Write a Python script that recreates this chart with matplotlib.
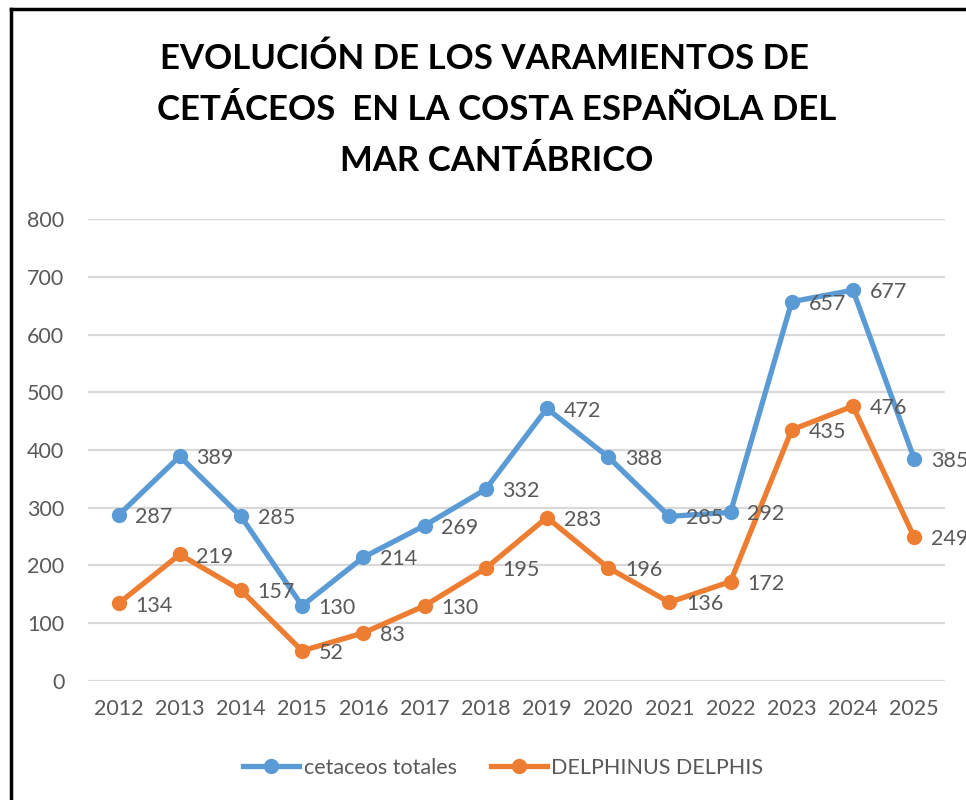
import matplotlib
matplotlib.use("Agg")
import matplotlib.pyplot as plt
from matplotlib.lines import Line2D

# datos del gráfico
years = ['2012', '2013', '2014', '2015', '2016', '2017', '2018',
         '2019', '2020', '2021', '2022', '2023', '2024', '2025']
cetaceos = [287, 389, 285, 130, 214, 269, 332, 472, 388, 285, 292, 657, 677, 385]
delphinus = [134, 219, 157, 52, 83, 130, 195, 283, 196, 136, 172, 435, 476, 249]
series_names = ['cetaceos totales', 'DELPHINUS DELPHIS']
yticks = [0, 100, 200, 300, 400, 500, 600, 700, 800]

azul = '#5B9BD5'
naranja = '#ED7D31'
gris = '#595959'
fuente = ['Lato', 'DejaVu Sans']

plt.rcParams['font.family'] = fuente

fig = plt.figure(figsize=(9.66, 8), dpi=100)
ax = fig.add_axes([0.091, 0.149, 0.887, 0.577])

x = list(range(len(years)))
for vals, col, name in [(cetaceos, azul, series_names[0]), (delphinus, naranja, series_names[1])]:
    ax.plot(x, vals, color=col, lw=3.8, marker='o', ms=10, label=name,
            solid_joinstyle='round', zorder=3)
    for xi, v in zip(x, vals):
        ax.annotate(str(v), (xi, v), xytext=(12, -1.5), textcoords='offset points',
                    va='center', ha='left', fontsize=15.5, color=gris, zorder=4)

ax.set_xlim(-0.5, 13.5)
ax.set_ylim(0, 800)
ax.set_yticks(yticks)
ax.set_xticks(x)
ax.set_xticklabels(years)
ax.tick_params(length=0, labelsize=15.5, colors=gris, pad=13)
ax.tick_params(axis='y', pad=17)
ax.grid(axis='y', color='#D9D9D9', lw=1.6)
ax.set_axisbelow(True)
for s in ax.spines.values():
    s.set_visible(False)

# título
titulo = ['EVOLUCIÓN DE LOS VARAMIENTOS DE',
          'CETÁCEOS  EN LA COSTA ESPAÑOLA DEL',
          'MAR CANTÁBRICO']
for i, (t, cx) in enumerate(zip(titulo, [484, 497, 497])):
    fig.text(cx / 966, 1 - (59 + 51 * i) / 800, t, ha='center', va='center',
             fontsize=25, fontweight='bold', color='black')

# leyenda
ax.legend(loc='upper center', bbox_to_anchor=(0.485, -0.125), ncol=2, frameon=False,
          fontsize=15.5, labelcolor=gris, handlelength=2.6, columnspacing=1.6,
          handletextpad=0.2)

# marco negro (cortado a la derecha y abajo)
fig.add_artist(Line2D([11 / 966, 11 / 966], [0, 1 - 9 / 800], color='black', lw=2.5))
fig.add_artist(Line2D([11 / 966, 1], [1 - 9 / 800, 1 - 9 / 800], color='black', lw=2.5))

fig.savefig('out.png', dpi=100)
